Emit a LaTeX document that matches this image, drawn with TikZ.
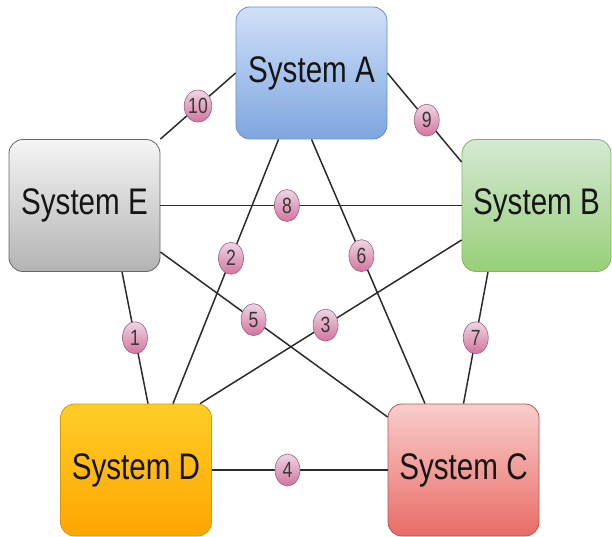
\documentclass[tikz,border=0pt]{standalone}
\usepackage{fontspec}
\setmainfont[FakeStretch=0.8]{Liberation Sans}
\usetikzlibrary{shapes.geometric}

\definecolor{aTop}{HTML}{D0E0F8}
\definecolor{aBot}{HTML}{7EA6E0}
\definecolor{aLine}{HTML}{6C8EBF}
\definecolor{eTop}{HTML}{F5F5F5}
\definecolor{eBot}{HTML}{B3B3B3}
\definecolor{eLine}{HTML}{666666}
\definecolor{bTop}{HTML}{D5E8D4}
\definecolor{bBot}{HTML}{97D077}
\definecolor{bLine}{HTML}{82B366}
\definecolor{dTop}{HTML}{FFCD28}
\definecolor{dBot}{HTML}{FFA500}
\definecolor{dLine}{HTML}{D79B00}
\definecolor{cTop}{HTML}{F8CECC}
\definecolor{cBot}{HTML}{EA6B66}
\definecolor{cLine}{HTML}{B85450}
\definecolor{tagTop}{HTML}{EED6E4}
\definecolor{tagBot}{HTML}{D5739D}
\definecolor{tagLine}{HTML}{996185}
\definecolor{edgeCol}{HTML}{2B2B2B}
\definecolor{txtCol}{HTML}{151515}

\begin{document}
\begin{tikzpicture}[x=1pt,y=1pt,
  sysbox/.style={rounded corners=14pt, minimum width=151pt, minimum height=132pt,
    inner sep=0pt, line width=0.8pt, text=txtCol,
    font=\fontsize{37}{40}\selectfont},
  conn/.style={line width=1.5pt, draw=edgeCol},
  tag/.style={ellipse, minimum width=25pt, minimum height=32pt, inner sep=0pt,
    draw=tagLine, top color=tagTop, bottom color=tagBot, line width=0.6pt,
    text=txtCol!85, font=\fontsize{22}{22}\selectfont}]

\useasboundingbox (0,0) rectangle (612,536);

% the five systems
\node[sysbox, draw=aLine, top color=aTop, bottom color=aBot] (A) at (311.5,463) {System A};
\node[sysbox, draw=eLine, top color=eTop, bottom color=eBot] (E) at (84.5,330.5) {System E};
\node[sysbox, draw=bLine, top color=bTop, bottom color=bBot, minimum width=149pt] (B) at (536.5,330.5) {System B};
\node[sysbox, draw=dLine, top color=dTop, bottom color=dBot] (D) at (136,66) {System D};
\node[sysbox, draw=cLine, top color=cTop, bottom color=cBot] (C) at (463.5,66) {System C};

% numbered links between the systems
\draw[conn] ([xshift=37.5pt]E.south) -- node[tag, pos=.5] (t1) {1} ([xshift=12pt]D.north);
\draw[conn] ([xshift=-33pt]A.south) -- node[tag, pos=.45] (t2) {2} ([xshift=37pt]D.north);
\draw[conn] ([yshift=-34.5pt]B.west) -- node[tag, pos=.52] (t3) {3} ([xshift=64pt]D.north);
\draw[conn] (D.east) -- node[tag, pos=.43] (t4) {4} (C.west);
\draw[conn] ([yshift=-46.5pt]E.east) -- node[tag, pos=.41] (t5) {5} ([yshift=53pt]C.west);
\draw[conn] (A.south) -- node[tag, pos=.44] (t6) {6} ([xshift=-38.5pt]C.north);
\draw[conn] ([xshift=-48.5pt]B.south) -- node[tag, pos=.5] (t7) {7} (C.north);
\draw[conn] (E.east) -- node[tag, pos=.42] (t8) {8} (B.west);
\draw[conn] (A.east) -- node[tag, pos=.53] (t9) {9} ([yshift=43.5pt]B.west);
\draw[conn] (E.north east) -- node[tag, pos=.5] (t10) {10} (A.west);

\end{tikzpicture}
\end{document}
